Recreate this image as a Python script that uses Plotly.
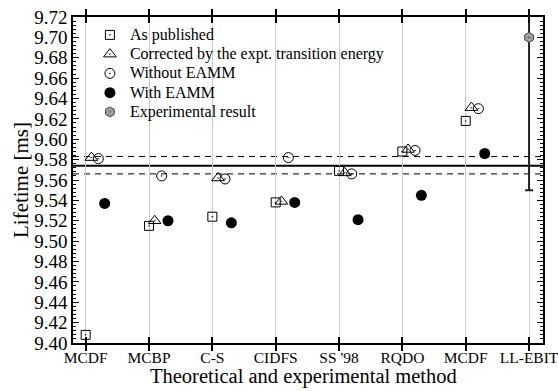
import plotly.graph_objects as go

categories = ["MCDF", "MCBP", "C-S", "CIDFS", "SS '98", "RQDO", "MCDF", "LL-EBIT"]

as_published = [9.408, 9.515, 9.524, 9.538, 9.569, 9.588, 9.618]
corrected = [9.582, 9.520, 9.562, 9.539, 9.567, 9.590, 9.631]
without_eamm = [9.581, 9.564, 9.561, 9.582, 9.566, 9.589, 9.630]
with_eamm = [9.537, 9.520, 9.518, 9.538, 9.521, 9.545, 9.586]

experimental = [9.700]
exp_err_plus = [0.15]
exp_err_minus = [0.15]

ref_mean = 9.574
ref_low = 9.566
ref_high = 9.583

FONT = "Liberation Serif, Times New Roman, DejaVu Serif, serif"
offsets = {"pub": 0.0, "cor": 0.09, "wo": 0.2, "w": 0.3}
idx = list(range(len(as_published)))

def lg(name):
    return '<span style="font-size:16px">' + name + '</span>'

fig = go.Figure()

def xs(key):
    return [i + offsets[key] for i in idx]

fig.add_trace(go.Scatter(x=xs("pub"), y=as_published, mode="markers", name=lg("As published"),
                         marker=dict(symbol="square-open-dot", size=9, color="black", line=dict(width=1))))
fig.add_trace(go.Scatter(x=xs("cor"), y=corrected, mode="markers",
                         name=lg("Corrected by the expt. transition energy"),
                         marker=dict(symbol="triangle-up-open-dot", size=11, color="black", line=dict(width=1))))
fig.add_trace(go.Scatter(x=xs("wo"), y=without_eamm, mode="markers", name=lg("Without EAMM"),
                         marker=dict(symbol="circle-open-dot", size=10, color="black", line=dict(width=1))))
fig.add_trace(go.Scatter(x=xs("w"), y=with_eamm, mode="markers", name=lg("With EAMM"),
                         marker=dict(symbol="circle", size=11, color="black")))
fig.add_trace(go.Scatter(x=[len(categories) - 1], y=experimental, mode="markers",
                         name=lg("Experimental result"),
                         marker=dict(symbol="hexagon-dot", size=10, color="#a0a0a0",
                                     line=dict(width=1, color="#404040")),
                         error_y=dict(type="data", array=exp_err_plus, arrayminus=exp_err_minus,
                                      color="#202020", thickness=2, width=4)))
# invisible trace to activate right-side mirrored axis
fig.add_trace(go.Scatter(x=[None], y=[None], yaxis="y2", showlegend=False, hoverinfo="skip"))

for yv, dash, w in [(ref_high, "6px,5px", 1), (ref_low, "6px,5px", 1), (ref_mean, "solid", 2)]:
    fig.add_shape(type="line", xref="paper", x0=0, x1=1, yref="y", y0=yv, y1=yv,
                  line=dict(color="black", width=w, dash=dash), layer="below")

yrange = [9.40, 9.72]

fig.update_layout(
    width=558, height=391,
    margin=dict(l=73, r=15, t=17, b=48, autoexpand=False),
    paper_bgcolor="white", plot_bgcolor="white",
    font=dict(family=FONT, color="black"),
    showlegend=True,
    legend=dict(x=0.036, y=0.99, xanchor="left", yanchor="top", bgcolor="rgba(0,0,0,0)",
                font=dict(family=FONT, size=12.5, color="black"), tracegroupgap=0),
    yaxis2=dict(overlaying="y", side="right", range=yrange, dtick=0.02,
                ticks="inside", ticklen=6, tickwidth=1.2, tickcolor="black",
                minor=dict(dtick=0.004, ticks="inside", ticklen=3, tickcolor="black", tickwidth=1),
                showticklabels=False, showgrid=False, zeroline=False, showline=False,
                automargin=False),
    annotations=[dict(text="Theoretical and experimental method", xref="paper", yref="paper",
                      x=0.49, y=-0.0655, xanchor="center", yanchor="top", showarrow=False,
                      borderpad=0,
                      font=dict(family=FONT, size=20.5, color="black"))],
)

fig.update_xaxes(
    range=[-0.2, 7.22], automargin=False,
    tickmode="array", tickvals=list(range(len(categories))), ticktext=categories,
    ticks="inside", ticklen=6, tickwidth=1.5, tickcolor="black",
    showline=True, linewidth=1.5, linecolor="black", mirror="allticks",
    showgrid=True, gridcolor="#cccccc", gridwidth=1, zeroline=False,
    tickfont=dict(family=FONT, size=15.5), ticklabeloverflow="allow",
)
fig.update_layout(yaxis=dict(
    range=yrange, dtick=0.02, tickformat=".2f", automargin=False,
    ticks="inside", ticklen=6, tickwidth=1.2, tickcolor="black",
    minor=dict(dtick=0.004, ticks="inside", ticklen=3, tickcolor="black", tickwidth=1, showgrid=False),
    showline=True, linewidth=1.5, linecolor="black", mirror=True,
    showgrid=False, zeroline=False,
    tickfont=dict(family=FONT, size=19),
    title=dict(text="Lifetime [ms]", font=dict(family=FONT, size=21), standoff=0),
))

fig.write_html("out.html")
